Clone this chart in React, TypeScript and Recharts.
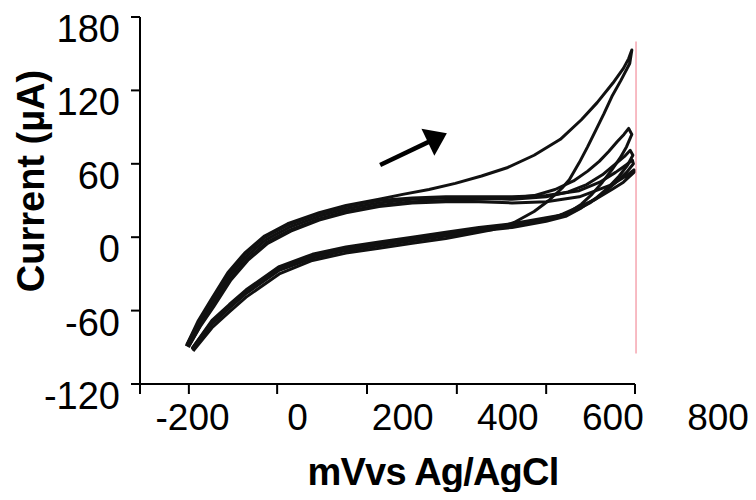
import { LineChart, Line, XAxis, YAxis, ReferenceLine, Label } from 'recharts';

type Pt = [number, number];

// potential (mV vs Ag/AgCl), current (µA) — five scans
const cycle1: Pt[] = [
  [-212, -89], [-190, -69], [-166, -52], [-133, -29], [-101, -13], [-63, 1], [-19, 11], [41, 20],
  [92, 26], [155, 31], [200, 35], [250, 39], [300, 44], [350, 50], [400, 57], [450, 67],
  [500, 80], [540, 96], [570, 110], [600, 126], [620, 138], [630, 146], [636, 153],
  [632, 142], [615, 128], [598, 115], [583, 101], [568, 88], [552, 74], [536, 61], [517, 47],
  [503, 40], [478, 30], [450, 21], [412, 12], [370, 6], [345, 4], [282, -1], [218, -5], [155, -9],
  [92, -13], [28, -19], [-35, -30], [-98, -49], [-130, -61], [-163, -74], [-199, -93],
];
const cycle2: Pt[] = [
  [-208, -90], [-185, -72], [-161, -56], [-128, -34], [-96, -18], [-58, -4], [-14, 6], [41, 15],
  [92, 21], [155, 26], [218, 29], [282, 30], [345, 31], [408, 32], [450, 34], [490, 39], [525, 46],
  [552, 54], [574, 62], [592, 70], [608, 78], [621, 84], [630, 89],
  [636, 84], [626, 74], [614, 65], [598, 55], [580, 45], [560, 35], [540, 27], [515, 20], [490, 16],
  [473, 15], [408, 10], [345, 7], [282, 3], [218, -1], [155, -5], [92, -9], [28, -15], [-35, -25],
  [-98, -44], [-130, -56], [-163, -69], [-201, -91],
];
const cycle3: Pt[] = [
  [-210, -88], [-187, -70], [-163, -54], [-130, -32], [-98, -16], [-60, -2], [-16, 8], [41, 17],
  [92, 23], [155, 28], [218, 31], [282, 32], [345, 32], [408, 31], [473, 33], [515, 37], [550, 43],
  [580, 51], [605, 60], [622, 66], [633, 71],
  [638, 67], [628, 59], [612, 50], [592, 41], [568, 32], [540, 24], [510, 17], [473, 13], [408, 8],
  [345, 5], [282, 1], [218, -3], [155, -7], [92, -11], [28, -17], [-35, -27], [-98, -46],
  [-130, -58], [-163, -71], [-200, -92],
];
const cycle4: Pt[] = [
  [-211, -88], [-188, -69], [-165, -53], [-132, -31], [-100, -14], [-62, 0], [-18, 10], [41, 19],
  [92, 25], [155, 30], [218, 32], [282, 33], [345, 33], [408, 33], [473, 34], [536, 38], [575, 45],
  [605, 53], [625, 59], [637, 63],
  [639, 60], [626, 53], [606, 45], [582, 36], [556, 28], [530, 22], [500, 18], [473, 16], [408, 11],
  [345, 8], [282, 4], [218, 0], [155, -4], [92, -8], [28, -14], [-35, -24], [-98, -43],
  [-130, -55], [-163, -68], [-201, -91],
];
const cycle5: Pt[] = [
  [-207, -89], [-184, -72], [-160, -57], [-127, -35], [-95, -19], [-57, -5], [-13, 5], [41, 14],
  [92, 20], [155, 25], [218, 28], [282, 29], [345, 29], [408, 28], [473, 29], [536, 33], [598, 43],
  [625, 50], [640, 55],
  [640, 53], [620, 45], [598, 39], [567, 31], [536, 25], [505, 19], [473, 14], [408, 9], [345, 6],
  [282, 2], [218, -2], [155, -6], [92, -10], [28, -16], [-35, -26], [-98, -45], [-130, -57],
  [-163, -70], [-201, -92],
];

const voltTicks = [-200, 0, 200, 400, 600, 800];
const voltMarks = [-300, -207, -39, 132, 303, 473, 642];
const currentTicks = [-120, -60, 0, 60, 120, 180];
const axisEnd = 642;
const markDepth = -128.2;
const limitV = 644;
const limitTop = 160;
const limitBottom = -95;
const arrowFrom = { v: 157, i: 59 };
const arrowTo = { v: 284, i: 85 };

const scans = [cycle1, cycle2, cycle3, cycle4, cycle5].map((c) => c.map(([v, i]) => ({ v, i })));

const FONT = '"Liberation Sans", Arial, sans-serif';

function VoltTick({ x, y, payload }: any) {
  return (
    <text x={x} y={y + 46} textAnchor="middle" fontSize={37} fontFamily={FONT} fill="#000">
      {payload.value}
    </text>
  );
}

function CurrentTick({ x, y, payload }: any) {
  return (
    <text x={x} y={y + 25} textAnchor="end" fontSize={38} fontFamily={FONT} fill="#000">
      {payload.value}
    </text>
  );
}

function Arrow({ x1, y1, x2, y2 }: any) {
  const len = Math.hypot(x2 - x1, y2 - y1);
  const ux = (x2 - x1) / len;
  const uy = (y2 - y1) / len;
  const head = 21;
  const half = 15;
  const bx = x2 - ux * head;
  const by = y2 - uy * head;
  return (
    <g>
      <line x1={x1} y1={y1} x2={bx + ux * 2} y2={by + uy * 2} stroke="#000" strokeWidth={4.5} />
      <polygon
        points={`${x2},${y2} ${bx - uy * half},${by + ux * half} ${bx + uy * half},${by - ux * half}`}
        fill="#000"
      />
    </g>
  );
}

export default function App() {
  return (
    <div style={{ width: 740, height: 484 }}>
      <LineChart width={740} height={484} margin={{ top: 9, right: 30, bottom: 6, left: 0 }}>
        <XAxis
          type="number"
          dataKey="v"
          domain={[-300, 800]}
          ticks={voltTicks}
          interval={0}
          tick={<VoltTick />}
          tickSize={0}
          tickMargin={0}
          tickLine={false}
          axisLine={false}
          height={102}
        >
          <Label
            value="mVvs Ag/AgCl"
            position="insideBottom"
            offset={1}
            dx={4}
            style={{ fontSize: 38, fontWeight: 700, fontFamily: FONT, fill: '#000', letterSpacing: -0.8 }}
          />
        </XAxis>
        <YAxis
          type="number"
          domain={[-120, 180]}
          ticks={currentTicks}
          interval={0}
          width={132}
          tick={<CurrentTick />}
          tickSize={9}
          tickMargin={11}
          tickLine={{ stroke: '#000', strokeWidth: 2 }}
          axisLine={{ stroke: '#000', strokeWidth: 2 }}
        >
          <Label
            content={() => (
              <text
                transform="translate(35.5,173) rotate(-90)"
                textAnchor="middle"
                fontSize={38}
                fontWeight={700}
                fontFamily={FONT}
                fill="#000"
              >
                Current (µA)
              </text>
            )}
          />
        </YAxis>

        <ReferenceLine
          segment={[{ x: -300, y: -120 }, { x: axisEnd, y: -120 }]}
          stroke="#000"
          strokeWidth={2}
        />
        {voltMarks.map((m) => (
          <ReferenceLine
            key={m}
            segment={[{ x: m, y: -120 }, { x: m, y: markDepth }]}
            stroke="#000"
            strokeWidth={2}
            ifOverflow="visible"
          />
        ))}
        <ReferenceLine
          segment={[{ x: limitV, y: limitTop }, { x: limitV, y: limitBottom }]}
          stroke="#f5a5b0"
          strokeWidth={1.5}
        />

        {scans.map((s, k) => (
          <Line
            key={k}
            data={s}
            dataKey="i"
            type="linear"
            stroke="#111"
            strokeWidth={3}
            strokeLinejoin="round"
            dot={false}
            activeDot={false}
            isAnimationActive={false}
          />
        ))}

        <ReferenceLine
          segment={[{ x: arrowFrom.v, y: arrowFrom.i }, { x: arrowTo.v, y: arrowTo.i }]}
          shape={<Arrow />}
        />
      </LineChart>
    </div>
  );
}
